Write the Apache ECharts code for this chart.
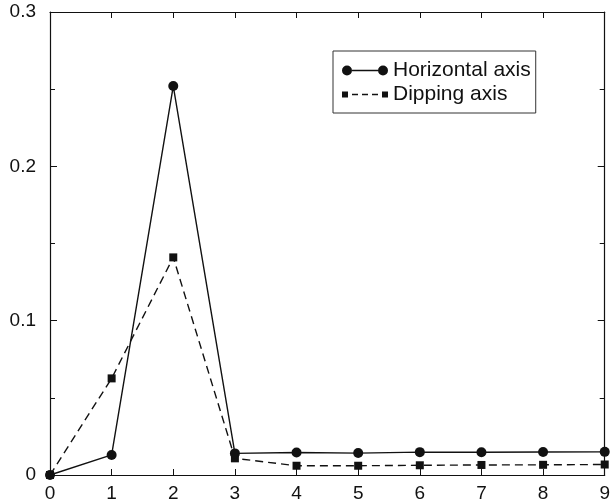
<!DOCTYPE html>
<html>
<head>
<meta charset="utf-8">
<script src="https://cdn.jsdelivr.net/npm/echarts@6/dist/echarts.min.js"></script>
<style>
  html, body { margin: 0; padding: 0; background: #fff; }
  #chart { width: 613px; height: 503px; }
</style>
</head>
<body>
<div id="chart"></div>
<script>
// Position along the profile (x) and the two measured curves
const positions = [0, 1, 2, 3, 4, 5, 6, 7, 8, 9];
const horizontalAxis = [0, 0.013, 0.252, 0.014, 0.0146, 0.0142, 0.0148, 0.0147, 0.0149, 0.015];
const dippingAxis = [0, 0.0626, 0.141, 0.0108, 0.006, 0.006, 0.0063, 0.0065, 0.0066, 0.0068];
const seriesNames = ['Horizontal axis', 'Dipping axis'];

const pairs = (ys) => positions.map((x, i) => [x, ys[i]]);

// Legend icons: marker - line - marker (solid) and marker - - - marker (dashed)
const circleIcon = 'path://' +
  'M0,5A5,5 0 1,0 10,5A5,5 0 1,0 0,5Z' +
  'M36,5A5,5 0 1,0 46,5A5,5 0 1,0 36,5Z' +
  'M10,4.35L36,4.35L36,5.65L10,5.65Z';
const squareIcon = 'path://' +
  'M0,2L6,2L6,8L0,8Z' +
  'M40,2L46,2L46,8L40,8Z' +
  'M10,4.35L16,4.35L16,5.65L10,5.65Z' +
  'M20,4.35L26,4.35L26,5.65L20,5.65Z' +
  'M30,4.35L36,4.35L36,5.65L30,5.65Z' +
  'M20,0L20.01,0L20.01,0.01L20,0.01Z' +
  'M20,9.99L20.01,9.99L20.01,10L20,10Z';

const font = 'Liberation Sans, Arial, Helvetica, sans-serif';
const ink = '#111';

const axisCommon = {
  axisLine: { show: true, onZero: false, lineStyle: { color: ink, width: 1.2 } },
  splitLine: { show: false }
};

const chart = echarts.init(document.getElementById('chart'), null, { renderer: 'canvas' });
chart.setOption({
  animation: false,
  backgroundColor: '#fff',
  grid: { left: 50, right: 7, top: 12, bottom: 27, containLabel: false },
  legend: {
    orient: 'vertical',
    left: 333,
    top: 51,
    padding: [9, 5, 8, 9],
    itemGap: 3,
    itemWidth: 46,
    itemHeight: 10,
    borderColor: '#333',
    borderWidth: 1,
    textStyle: { fontFamily: font, fontSize: 21, color: ink, lineHeight: 20 },
    data: [
      { name: seriesNames[0], icon: circleIcon },
      { name: seriesNames[1], icon: squareIcon }
    ]
  },
  xAxis: [
    Object.assign({}, axisCommon, {
      type: 'value', min: 0, max: 9, interval: 1, position: 'bottom',
      axisTick: { show: true, inside: true, length: 6, lineStyle: { color: ink } },
      axisLabel: { fontFamily: font, fontSize: 19, color: ink, margin: 9 }
    }),
    Object.assign({}, axisCommon, {
      type: 'value', min: 0, max: 9, interval: 1, position: 'top',
      axisTick: { show: true, inside: true, length: 6, lineStyle: { color: ink } },
      axisLabel: { show: false }
    })
  ],
  yAxis: [
    Object.assign({}, axisCommon, {
      type: 'value', min: 0, max: 0.3, interval: 0.1, position: 'left',
      axisTick: { show: true, inside: true, length: 7, lineStyle: { color: ink } },
      minorTick: { show: true, splitNumber: 2, length: 5, lineStyle: { color: ink } },
      axisLabel: { fontFamily: font, fontSize: 19, color: ink, margin: 14 }
    }),
    Object.assign({}, axisCommon, {
      type: 'value', min: 0, max: 0.3, interval: 0.1, position: 'right',
      axisTick: { show: true, inside: true, length: 7, lineStyle: { color: ink } },
      minorTick: { show: true, splitNumber: 2, length: 5, lineStyle: { color: ink } },
      axisLabel: { show: false }
    })
  ],
  series: [
    {
      name: seriesNames[0],
      type: 'line',
      xAxisIndex: 0, yAxisIndex: 0,
      data: pairs(horizontalAxis),
      symbol: 'circle',
      symbolSize: 10,
      itemStyle: { color: ink },
      lineStyle: { color: ink, width: 1.4, type: 'solid' },
      z: 3
    },
    {
      name: seriesNames[1],
      type: 'line',
      xAxisIndex: 0, yAxisIndex: 0,
      data: pairs(dippingAxis),
      symbol: 'rect',
      symbolSize: 8,
      itemStyle: { color: ink },
      lineStyle: { color: ink, width: 1.4, type: [8, 5] },
      z: 2
    }
  ]
});
</script>
</body>
</html>
